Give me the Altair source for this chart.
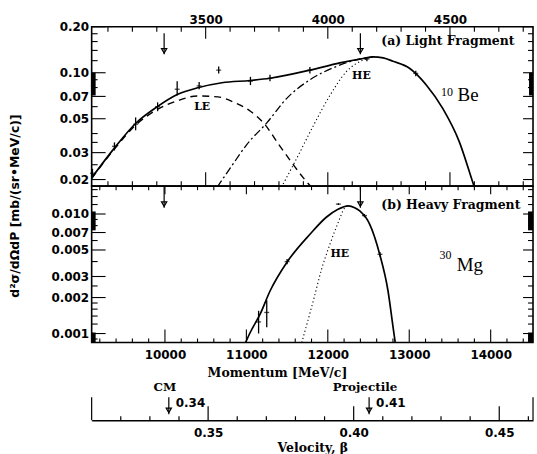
import altair as alt
import pandas as pd

# ---------------- frame ranges ----------------
P_DOMAIN = [9100, 14520]          # 30Mg momentum [MeV/c]
V_DOMAIN = [0.31, 0.4616]         # velocity beta
A_Y_DOMAIN = [0.0181, 0.2]
B_Y_DOMAIN = [0.00084, 0.0171]

# ---------------- (a) light fragment 10Be ----------------
be_sum_p = [9100, 9376, 9642, 9907, 10151, 10415, 10700, 11047, 11290, 11781, 12148, 12433, 12555, 12680, 12799, 13003, 13207, 13411, 13614, 13777, 13800]
be_sum_v = [0.0205, 0.032, 0.0467, 0.060, 0.072, 0.080, 0.086, 0.089, 0.092, 0.104, 0.116, 0.124, 0.127, 0.125, 0.119, 0.107, 0.0835, 0.0584, 0.0354, 0.0194, 0.0178]
be_le_p = [9100, 9376, 9642, 9907, 10151, 10400, 10650, 10850, 11050, 11210, 11414, 11577, 11700, 11800]
be_le_v = [0.0203, 0.0315, 0.0455, 0.0575, 0.0655, 0.0705, 0.0695, 0.064, 0.056, 0.047, 0.033, 0.025, 0.0205, 0.0178]
be_he_p = [10640, 10803, 11007, 11251, 11496, 11781, 12107, 12392, 12555]
be_he_v = [0.0178, 0.0238, 0.034, 0.047, 0.068, 0.090, 0.110, 0.123, 0.127]
be_hed_p = [11430, 11618, 11822, 12026, 12230, 12433, 12555]
be_hed_v = [0.0178, 0.0275, 0.045, 0.071, 0.102, 0.121, 0.127]
be_pts_p = [9110, 9380, 9640, 9910, 10150, 10420, 10660, 11050, 11290, 11780, 12480, 13080]
be_pts_v = [0.022, 0.033, 0.046, 0.060, 0.078, 0.082, 0.104, 0.088, 0.092, 0.104, 0.123, 0.099]
be_pts_lo = [0.0205, 0.031, 0.042, 0.056, 0.071, 0.078, 0.099, 0.083, 0.088, 0.099, 0.119, 0.095]
be_pts_hi = [0.0235, 0.035, 0.051, 0.064, 0.088, 0.087, 0.110, 0.094, 0.097, 0.109, 0.127, 0.103]

# ---------------- (b) heavy fragment 30Mg ----------------
mg_sum_p = [10990, 11047, 11170, 11292, 11496, 11781, 11985, 12120, 12250, 12330, 12392, 12515, 12637, 12739, 12800, 12830]
mg_sum_v = [0.00084, 0.00102, 0.00146, 0.00228, 0.00393, 0.00677, 0.00944, 0.0109, 0.0117, 0.0113, 0.0106, 0.0082, 0.00461, 0.00228, 0.00115, 0.00082]
mg_he_p = [11680, 11822, 11924, 12026, 12128, 12209, 12250]
mg_he_v = [0.00084, 0.00188, 0.00346, 0.00558, 0.0085, 0.0113, 0.0117]
mg_pts_p = [11150, 11250, 11500, 12130, 12450, 12640]
mg_pts_v = [0.00125, 0.0015, 0.0040, 0.0121, 0.0097, 0.0046]
mg_pts_lo = [0.00100, 0.00113, 0.0038, 0.0119, 0.0094, 0.0044]
mg_pts_hi = [0.00155, 0.0019, 0.0042, 0.0123, 0.0100, 0.0048]

# arrows (CM, projectile) in momentum, and in velocity
arrow_p = [9990, 12400]
arrow_a_v = [0.181, 0.132]
arrow_a_head = 0.139
arrow_b_v = [0.0171, 0.0113]
arrow_b_head = 0.0121
vel_marks = [0.3365, 0.4053]
vel_names = ["CM", "Projectile"]
vel_values = ["0.34", "0.41"]

# ---------------- ticks ----------------
be_major = [3500, 4000, 4500]
be_minor = [b for b in range(3100, 4850, 100) if b not in (3500, 4000, 4500)]
mg_major = [10000, 11000, 12000, 13000, 14000]
mg_minor = [m for m in range(9200, 14520, 200) if m % 1000 != 0]
a_y_major = [0.02, 0.03, 0.05, 0.07, 0.1, 0.2]
a_y_minor = [0.025, 0.035, 0.04, 0.06, 0.08, 0.09, 0.12, 0.14, 0.16, 0.18]
b_y_major = [0.001, 0.002, 0.003, 0.005, 0.007, 0.01]
b_y_minor = [0.0009, 0.0012, 0.0014, 0.0016, 0.0018, 0.0025, 0.004, 0.006, 0.008, 0.009, 0.012, 0.014, 0.016]
v_major = [0.35, 0.40, 0.45]
v_minor = [0.32, 0.33, 0.34, 0.36, 0.37, 0.38, 0.39, 0.41, 0.42, 0.43, 0.44, 0.46]
v_edges = V_DOMAIN
a_dense_lo, a_dense_hi = [0.071], [0.1]
b_dense_lo, b_dense_hi = [0.00084, 0.0073], [0.00102, 0.0105]

W, HA, HB = 443, 160, 157
NUM_FONT = "DejaVu Sans"
TXT_FONT = "DejaVu Serif"

PS = alt.Scale(domain=P_DOMAIN, nice=False, zero=False)
VS = alt.Scale(domain=V_DOMAIN, nice=False, zero=False)
AYS = alt.Scale(type="log", domain=A_Y_DOMAIN, nice=False)
BYS = alt.Scale(type="log", domain=B_Y_DOMAIN, nice=False)

# ---------------- axes ----------------
a_xaxis = alt.Axis(orient="top", values=[b * 3 for b in be_major],
                   labelExpr="format(datum.value / 3, 'd')", ticks=False, tickSize=0,
                   domain=False, labelPadding=3, labelBaseline="alphabetic", title=None)
a_yaxis = alt.Axis(values=a_y_major, format=".2f", ticks=False, tickSize=0, domain=False,
                   labelPadding=3, title="d²σ/dΩdP [mb/(sr•MeV/c)]", titleX=-77.7, titleY=179.5,
                   titleAngle=270, titleAlign="center", titleBaseline="middle",
                   titleFont=NUM_FONT, titleFontSize=12.5, titleFontWeight="bold")
b_xaxis = alt.Axis(orient="bottom", values=mg_major, format="d", ticks=False, tickSize=0,
                   domain=False, labelPadding=7, title="Momentum [MeV/c]", titleX=186, titleY=29.7,
                   titleAlign="center", titleBaseline="middle")
b_yaxis = alt.Axis(values=b_y_major, format=".3f", ticks=False, tickSize=0, domain=False,
                   labelPadding=3, title=None)
VBASE = 235  # velocity baseline below panel (b) top, px
v_axis = alt.Axis(orient="bottom", offset=VBASE - HB, values=v_major, format=".2f",
                  ticks=False, tickSize=0, domain=True, domainColor="black", domainWidth=1.5,
                  labelPadding=7, title="Velocity, β", titleY=27, titleBaseline="middle",
                  titleAlign="center")


class Panel:
    def __init__(self, ys, xa, ya):
        self.ys, self.xa, self.ya = ys, xa, ya

    def X(self, field="p"):
        return alt.X(f"{field}:Q", scale=PS, axis=self.xa)

    def Y(self, field="v"):
        return alt.Y(f"{field}:Q", scale=self.ys, axis=self.ya)

    def curve(self, p, v, width=1.6, dash=None):
        kw = dict(color="black", strokeWidth=width, interpolate="monotone", clip=True)
        if dash:
            kw["strokeDash"] = dash
        return alt.Chart(pd.DataFrame({"p": p, "v": v})).mark_line(**kw).encode(
            x=self.X(), y=self.Y())

    def points(self, p, v, lo, hi):
        df = pd.DataFrame({"p": p, "v": v, "lo": lo, "hi": hi})
        bars = alt.Chart(df).mark_rule(color="black", strokeWidth=1.3).encode(
            x=self.X(), y=self.Y("lo"), y2="hi:Q")
        cen = alt.Chart(df).mark_tick(color="black", orient="horizontal", size=5, thickness=1.3).encode(
            x=self.X(), y=self.Y())
        return [bars, cen]

    def xticks(self, vals, field, y0, y1, calc=None):
        ch = alt.Chart(pd.DataFrame({field: vals}))
        if calc:
            ch = ch.transform_calculate(p=calc)
        return ch.mark_rule(color="black", strokeWidth=1.1).encode(
            x=self.X("p"), y=alt.value(y0), y2=alt.value(y1))

    def yticks(self, vals, x0, x1):
        return alt.Chart(pd.DataFrame({"v": vals})).mark_rule(color="black", strokeWidth=1.1).encode(
            y=self.Y(), x=alt.value(x0), x2=alt.value(x1))

    def dense(self, lo, hi, x0, x1):
        return alt.Chart(pd.DataFrame({"lo": lo, "hi": hi})).mark_rect(color="black").encode(
            y=self.Y("lo"), y2="hi:Q", x=alt.value(x0), x2=alt.value(x1))

    def arrows(self, p, vv, head):
        n = len(p)
        df = pd.DataFrame({"p": p, "y1": [vv[0]] * n, "y2": [vv[1]] * n, "h": [head] * n})
        line = alt.Chart(df).mark_rule(color="black", strokeWidth=1.2).encode(
            x=self.X(), y=self.Y("y1"), y2="y2:Q")
        tri = alt.Chart(df).mark_point(shape="triangle-down", filled=False, color="black",
                                       size=28, strokeWidth=1.2, opacity=1).encode(
            x=self.X(), y=self.Y("h"))
        return [line, tri]

    def text(self, s, p, v, size=12, font=TXT_FONT, weight="bold", align="left", baseline="middle"):
        return alt.Chart(pd.DataFrame({"p": [p], "v": [v], "t": [s]})).mark_text(
            font=font, fontSize=size, fontWeight=weight, align=align, baseline=baseline,
            color="black").encode(x=self.X(), y=self.Y(), text="t:N")


# ---------------- panel (a) ----------------
a = Panel(AYS, a_xaxis, a_yaxis)
A = alt.layer(
    a.curve(be_sum_p, be_sum_v, 1.7),
    a.curve(be_le_p, be_le_v, 1.4, [7, 5]),
    a.curve(be_he_p, be_he_v, 1.3, [8, 3, 2, 3]),
    a.curve(be_hed_p, be_hed_v, 1.1, [1.2, 2.6]),
    *a.points(be_pts_p, be_pts_v, be_pts_lo, be_pts_hi),
    *a.arrows(arrow_p, arrow_a_v, arrow_a_head),
    a.xticks(be_major, "be", 0, 12, "datum.be * 3"),
    a.xticks(be_minor, "be", 0, 5, "datum.be * 3"),
    a.xticks(be_major, "be", HA, HA - 14, "datum.be * 3"),
    a.xticks(be_minor, "be", HA, HA - 5, "datum.be * 3"),
    a.yticks(a_y_major, 0, 14),
    a.yticks(a_y_minor, 0, 6),
    a.yticks(a_y_major, W, W - 10),
    a.yticks(a_y_minor, W, W - 5),
    a.dense(a_dense_lo, a_dense_hi, 0, 4),
    a.dense(a_dense_lo, a_dense_hi, W - 4, W),
    a.text("(a) Light Fragment", 12657, 0.162, 12.5),
    a.text("LE", 10457, 0.060, 11, align="center"),
    a.text("HE", 12413, 0.0957, 11, align="center"),
    a.text("10", 13391, 0.0709, 12, font="Liberation Serif", weight="normal", baseline="alphabetic"),
    a.text("Be", 13594, 0.0655, 19, font="Liberation Serif", weight="normal", baseline="alphabetic"),
).properties(width=W, height=HA)

# ---------------- panel (b) ----------------
b = Panel(BYS, b_xaxis, b_yaxis)
B_main = alt.layer(
    b.curve(mg_sum_p, mg_sum_v, 1.7),
    b.curve(mg_he_p, mg_he_v, 1.1, [1.2, 2.6]),
    *b.points(mg_pts_p, mg_pts_v, mg_pts_lo, mg_pts_hi),
    *b.arrows(arrow_p, arrow_b_v, arrow_b_head),
    b.xticks(mg_major, "p", 0, 8),
    b.xticks(mg_minor, "p", 0, 4),
    b.xticks(mg_major, "p", HB, HB - 13),
    b.xticks(mg_minor, "p", HB, HB - 4),
    b.yticks(b_y_major, 0, 14),
    b.yticks(b_y_minor, 0, 6),
    b.yticks(b_y_major, W, W - 10),
    b.yticks(b_y_minor, W, W - 5),
    b.dense(b_dense_lo, b_dense_hi, 0, 4),
    b.dense(b_dense_lo, b_dense_hi, W - 5, W),
    b.text("(b) Heavy Fragment", 12657, 0.0119, 12.5),
    b.text("HE", 12148, 0.00461, 11, align="center"),
    b.text("30", 13372, 0.00422, 12, font="Liberation Serif", weight="normal", baseline="alphabetic"),
    b.text("Mg", 13582, 0.00335, 19, font="Liberation Serif", weight="normal", baseline="alphabetic"),
)


# ---------------- velocity axis (below panel b) ----------------
def VX():
    return alt.X("vel:Q", scale=VS, axis=v_axis)


def vticks(vals, length):
    return alt.Chart(pd.DataFrame({"vel": vals})).mark_rule(color="black", strokeWidth=1.2).encode(
        x=VX(), y=alt.value(VBASE - length), y2=alt.value(VBASE))


vdf = pd.DataFrame({"vel": vel_marks, "name": vel_names, "val": vel_values})
V = alt.layer(
    vticks(v_major, 14),
    vticks(v_minor, 4),
    vticks(v_edges, 23),
    alt.Chart(vdf).mark_rule(color="black", strokeWidth=1.2).encode(
        x=VX(), y=alt.value(212), y2=alt.value(229)),
    alt.Chart(vdf).mark_point(shape="triangle-down", filled=False, color="black", size=28,
                              strokeWidth=1.2, opacity=1).encode(x=VX(), y=alt.value(225)),
    alt.Chart(vdf).mark_text(font=TXT_FONT, fontSize=12, fontWeight="bold", align="center",
                             baseline="middle", dx=-4, color="black").encode(
        x=VX(), y=alt.value(202), text="name:N"),
    alt.Chart(vdf).mark_text(font=NUM_FONT, fontSize=12, fontWeight="bold", align="left",
                             baseline="middle", dx=7, color="black").encode(
        x=VX(), y=alt.value(217.5), text="val:N"),
)

B = alt.layer(B_main, V).resolve_scale(x="independent").properties(width=W, height=HB)

chart = alt.vconcat(A, B, spacing=0, bounds="flush").properties(
    padding={"left": 7, "top": 12, "right": 2, "bottom": 0},
    background="white",
).configure_view(stroke="black", strokeWidth=1.6).configure_axis(
    grid=False, labelFont=NUM_FONT, labelFontWeight="bold", labelFontSize=12, labelColor="black",
    titleFont=TXT_FONT, titleFontWeight="bold", titleFontSize=12.5, titleColor="black",
)

chart.save("out.html", embed_options={"renderer": "svg", "actions": False})
